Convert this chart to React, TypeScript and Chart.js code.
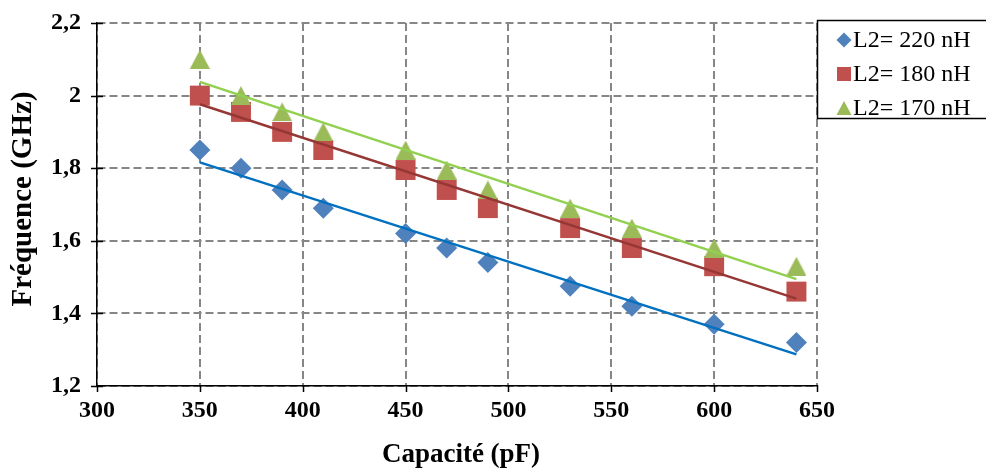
import React, { useEffect, useRef } from "react";
import { Chart, registerables } from "chart.js";

Chart.register(...registerables);

// Capacitance values (pF) shared by the three measurement series
const capacitance = [350, 370, 390, 410, 450, 470, 490, 530, 560, 600, 640];

// Measured frequency (GHz) for each inductance L2
const freqL220 = [1.85, 1.8, 1.74, 1.69, 1.62, 1.58, 1.54, 1.475, 1.42, 1.37, 1.32];
const freqL180 = [2.0, 1.955, 1.9, 1.85, 1.795, 1.74, 1.69, 1.635, 1.58, 1.53, 1.46];
const freqL170 = [2.1, 2.0, 1.955, 1.9, 1.85, 1.795, 1.74, 1.69, 1.635, 1.58, 1.53];

const seriesLabels = ["L2= 220 nH", "L2= 180 nH", "L2= 170 nH"];

const xTicks = [300, 350, 400, 450, 500, 550, 600, 650];
const yTicks = [1.2, 1.4, 1.6, 1.8, 2.0, 2.2];

const xTitle = "Capacité (pF)";
const yTitle = "Fréquence (GHz)";

const SERIF = "'Liberation Serif', 'Times New Roman', serif";

const MARKER_BLUE = "#4F81BD";
const MARKER_RED = "#C0504D";
const MARKER_GREEN = "#9BBB59";
const TREND_BLUE = "#0070C0";
const TREND_RED = "#953735";
const TREND_GREEN = "#92D050";
const GRID = "#868686";

// Least-squares straight line over the series, evaluated at its first and last x
function trendLine(xs: number[], ys: number[]) {
  const n = xs.length;
  const mx = xs.reduce((a, b) => a + b, 0) / n;
  const my = ys.reduce((a, b) => a + b, 0) / n;
  let sxy = 0;
  let sxx = 0;
  for (let i = 0; i < n; i++) {
    sxy += (xs[i] - mx) * (ys[i] - my);
    sxx += (xs[i] - mx) * (xs[i] - mx);
  }
  const slope = sxy / sxx;
  const at = (x: number) => my + slope * (x - mx);
  return [
    { x: xs[0], y: at(xs[0]) },
    { x: xs[n - 1], y: at(xs[n - 1]) },
  ];
}

function points(xs: number[], ys: number[]) {
  return xs.map((x, i) => ({ x, y: ys[i] }));
}

// Upward triangle marker centred on its bounding box
function triangleMarker(w: number, h: number, color: string) {
  const c = document.createElement("canvas");
  c.width = w;
  c.height = h;
  const g = c.getContext("2d")!;
  g.fillStyle = color;
  g.beginPath();
  g.moveTo(w / 2, 0);
  g.lineTo(w, h);
  g.lineTo(0, h);
  g.closePath();
  g.fill();
  return c;
}

function formatFreq(v: number) {
  return String(Number(v.toFixed(1))).replace(".", ",");
}

export default function App() {
  const canvasRef = useRef<HTMLCanvasElement | null>(null);

  useEffect(() => {
    const canvas = canvasRef.current;
    if (!canvas) return;

    const tri = triangleMarker(20, 19, MARKER_GREEN);

    const axisDecor = {
      id: "axisDecor",
      afterDraw(chart: any) {
        const { ctx, chartArea, scales } = chart;
        ctx.save();
        // tick marks crossing the axes
        ctx.strokeStyle = "#000";
        ctx.lineWidth = 1.5;
        ctx.beginPath();
        yTicks.forEach((v) => {
          const py = Math.round(scales.y.getPixelForValue(v)) + 0.5;
          ctx.moveTo(chartArea.left - 6, py);
          ctx.lineTo(chartArea.left + 6, py);
        });
        xTicks.forEach((v) => {
          const px = Math.round(scales.x.getPixelForValue(v)) + 0.5;
          ctx.moveTo(px, chartArea.bottom - 1);
          ctx.lineTo(px, chartArea.bottom + 6);
        });
        ctx.stroke();

        // axis titles
        ctx.fillStyle = "#000";
        ctx.textAlign = "center";
        ctx.textBaseline = "middle";
        ctx.font = `bold 27px ${SERIF}`;
        ctx.fillText(xTitle, 461, 455);
        ctx.save();
        ctx.translate(24, 199);
        ctx.rotate(-Math.PI / 2);
        ctx.font = `bold 29px ${SERIF}`;
        ctx.fillText(yTitle, 0, 0);
        ctx.restore();

        // legend box
        const lx = 817;
        const ly = 20;
        ctx.fillStyle = "#fff";
        ctx.fillRect(lx, ly, 180, 98);
        ctx.strokeStyle = "#000";
        ctx.lineWidth = 1.5;
        ctx.strokeRect(lx + 0.5, ly + 0.5, 180, 98);

        const rows = [40, 74, 108];
        const mx = 844;
        // diamond
        ctx.fillStyle = MARKER_BLUE;
        ctx.beginPath();
        ctx.moveTo(mx, rows[0] - 7.5);
        ctx.lineTo(mx + 7.5, rows[0]);
        ctx.lineTo(mx, rows[0] + 7.5);
        ctx.lineTo(mx - 7.5, rows[0]);
        ctx.closePath();
        ctx.fill();
        // square
        ctx.fillStyle = MARKER_RED;
        ctx.fillRect(mx - 7, rows[1] - 7, 14, 14);
        // triangle
        ctx.fillStyle = MARKER_GREEN;
        ctx.beginPath();
        ctx.moveTo(mx, rows[2] - 7);
        ctx.lineTo(mx + 7.5, rows[2] + 7);
        ctx.lineTo(mx - 7.5, rows[2] + 7);
        ctx.closePath();
        ctx.fill();

        ctx.fillStyle = "#000";
        ctx.font = `24px ${SERIF}`;
        ctx.textAlign = "left";
        ctx.textBaseline = "middle";
        seriesLabels.forEach((t, i) => ctx.fillText(t, 853, rows[i] + 1));
        ctx.restore();
      },
    };

    const chart = new Chart(canvas, {
      type: "scatter",
      data: {
        datasets: [
          {
            label: seriesLabels[0] + " trend",
            type: "line",
            data: trendLine(capacitance, freqL220),
            borderColor: TREND_BLUE,
            borderWidth: 2.5,
            pointRadius: 0,
            fill: false,
            order: 0,
          },
          {
            label: seriesLabels[1] + " trend",
            type: "line",
            data: trendLine(capacitance, freqL180),
            borderColor: TREND_RED,
            borderWidth: 2.5,
            pointRadius: 0,
            fill: false,
            order: 0,
          },
          {
            label: seriesLabels[2] + " trend",
            type: "line",
            data: trendLine(capacitance, freqL170),
            borderColor: TREND_GREEN,
            borderWidth: 2.5,
            pointRadius: 0,
            fill: false,
            order: 0,
          },
          {
            label: seriesLabels[2],
            data: points(capacitance, freqL170),
            pointStyle: tri,
            pointRadius: 10,
            backgroundColor: MARKER_GREEN,
            borderColor: MARKER_GREEN,
            order: 1,
          },
          {
            label: seriesLabels[1],
            data: points(capacitance, freqL180),
            pointStyle: "rect",
            pointRadius: 14.1,
            backgroundColor: MARKER_RED,
            borderColor: MARKER_RED,
            borderWidth: 0,
            order: 2,
          },
          {
            label: seriesLabels[0],
            data: points(capacitance, freqL220),
            pointStyle: "rectRot",
            pointRadius: 10.5,
            backgroundColor: MARKER_BLUE,
            borderColor: MARKER_BLUE,
            borderWidth: 0,
            order: 3,
          },
        ],
      },
      options: {
        responsive: false,
        animation: false,
        devicePixelRatio: 1,
        layout: { padding: { top: 23, right: 169, left: 0, bottom: 0 } },
        plugins: {
          legend: { display: false },
          tooltip: { enabled: false },
        },
        scales: {
          x: {
            type: "linear",
            min: 300,
            max: 650,
            afterBuildTicks: (s: any) => {
              s.ticks = xTicks.map((v) => ({ value: v }));
            },
            afterFit: (s: any) => {
              s.height = 82;
              s.paddingLeft = 0;
              s.paddingRight = 0;
            },
            ticks: {
              color: "#000",
              padding: 10,
              font: { family: SERIF, size: 24, weight: "bold" },
              callback: (v: any) => String(v),
            },
            grid: { color: GRID, lineWidth: 2, drawTicks: false },
            border: { display: true, color: "#000", width: 1.5, dash: [8, 4] },
            title: { display: false },
          },
          y: {
            type: "linear",
            min: 1.2,
            max: 2.2,
            afterBuildTicks: (s: any) => {
              s.ticks = yTicks.map((v) => ({ value: v }));
            },
            afterFit: (s: any) => {
              s.width = 97;
              s.paddingTop = 0;
              s.paddingBottom = 0;
            },
            ticks: {
              color: "#000",
              padding: 16,
              font: { family: SERIF, size: 24, weight: "bold" },
              callback: (v: any) => formatFreq(Number(v)),
            },
            grid: { color: GRID, lineWidth: 2, drawTicks: false },
            border: { display: true, color: "#000", width: 1.5, dash: [8, 4] },
            title: { display: false },
          },
        },
      },
      plugins: [axisDecor],
    } as any);

    return () => chart.destroy();
  }, []);

  return (
    <div
      style={{
        position: "fixed",
        left: 0,
        top: 0,
        width: 986,
        height: 468,
        background: "#fff",
      }}
    >
      <canvas ref={canvasRef} width={986} height={468} style={{ display: "block" }} />
    </div>
  );
}
